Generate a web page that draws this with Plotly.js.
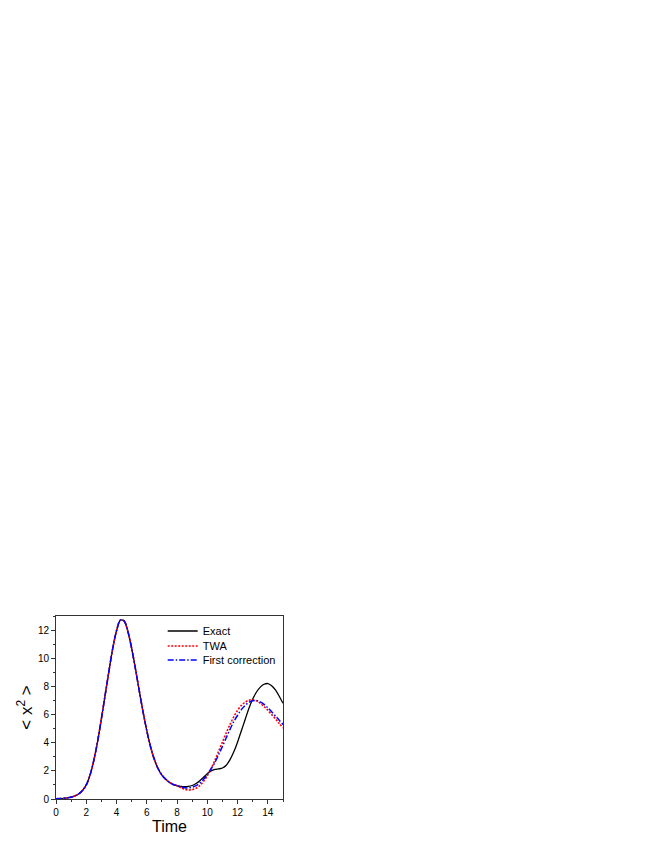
<!DOCTYPE html>
<html>
<head>
<meta charset="utf-8">
<script src="https://cdn.plot.ly/plotly-3.0.1.min.js"></script>
<style>html,body{margin:0;padding:0;background:#fff;}</style>
</head>
<body>
<div id="chart" style="width:654px;height:846px;"></div>
<script>
// Shared early part (all three curves coincide up to t ~ 8)
const tCommon = [0, 0.25, 0.5, 0.75, 1.0, 1.25, 1.5, 1.75, 2.0, 2.25, 2.5, 2.75, 3.0, 3.25, 3.5, 3.75, 4.0, 4.25, 4.5, 4.75, 5.0, 5.25, 5.5, 5.75, 6.0, 6.25, 6.5, 6.75, 7.0, 7.25, 7.5, 7.75];
const vCommon = [0.02, 0.03, 0.05, 0.08, 0.13, 0.22, 0.36, 0.6, 1.0, 1.7, 2.75, 4.1, 5.7, 7.4, 9.1, 10.7, 11.95, 12.7, 12.65, 11.9, 10.7, 9.25, 7.7, 6.2, 4.85, 3.7, 2.8, 2.15, 1.7, 1.4, 1.18, 1.03];

const tTail = [8.0, 8.25, 8.5, 8.75, 9.0, 9.25, 9.5, 9.75, 10.0, 10.25, 10.5, 10.75, 11.0, 11.25, 11.5, 11.75, 12.0, 12.25, 12.5, 12.75, 13.0, 13.25, 13.5, 13.75, 14.0, 14.25, 14.5, 14.75, 15.0];
const vExactTail = [0.94, 0.89, 0.87, 0.89, 0.96, 1.1, 1.3, 1.55, 1.8, 2.0, 2.1, 2.14, 2.2, 2.4, 2.8, 3.35, 4.05, 4.85, 5.65, 6.45, 7.1, 7.6, 7.95, 8.15, 8.2, 8.05, 7.75, 7.3, 6.8];
const vTwaTail = [0.95, 0.8, 0.69, 0.64, 0.66, 0.76, 0.95, 1.25, 1.65, 2.15, 2.75, 3.4, 4.05, 4.7, 5.3, 5.85, 6.3, 6.65, 6.88, 7.02, 7.05, 6.97, 6.8, 6.57, 6.3, 6.0, 5.7, 5.37, 5.05];
const vFirstTail = [0.97, 0.86, 0.8, 0.79, 0.84, 0.95, 1.13, 1.4, 1.75, 2.15, 2.6, 3.15, 3.75, 4.35, 4.95, 5.5, 5.95, 6.35, 6.65, 6.87, 6.98, 7.0, 6.9, 6.72, 6.48, 6.2, 5.9, 5.6, 5.3];

const seriesNames = ["Exact", "TWA", "First correction"];

const font = "Liberation Sans, Arial, sans-serif";

const traces = [
  {y: vCommon.concat(vExactTail), name: seriesNames[0], legend: "legend",
   line: {color: "#000000", width: 1.3, dash: "solid"}},
  {y: vCommon.concat(vTwaTail), name: seriesNames[1], legend: "legend2",
   line: {color: "#ff0000", width: 1.6, dash: "2px,1.5px"}},
  {y: vCommon.concat(vFirstTail), name: seriesNames[2], legend: "legend3",
   line: {color: "#0000ff", width: 1.5, dash: "6px,2px,1.5px,2px"}}
].map(t => Object.assign({type: "scatter", mode: "lines", x: tCommon.concat(tTail)}, t,
  {line: Object.assign({shape: "spline", smoothing: 0.9}, t.line)}));

const axisCommon = {
  showgrid: false, zeroline: false, showline: true, mirror: true,
  linecolor: "#333", linewidth: 1, ticks: "outside", ticklen: 4, tickwidth: 1, tickcolor: "#333",
  tickfont: {family: font, size: 10, color: "#000"}
};

function legendAt(y) {
  return {x: 0.47, y: y, xanchor: "left", yanchor: "middle", bgcolor: "rgba(0,0,0,0)",
    font: {family: font, size: 11, color: "#000"}, itemwidth: 30};
}

const layout = {
  width: 654, height: 846,
  margin: {l: 56, r: 371, t: 616, b: 47},
  paper_bgcolor: "#fff", plot_bgcolor: "#fff",
  showlegend: true,
  legend: legendAt(0.918),
  legend2: legendAt(0.836),
  legend3: legendAt(0.760),
  xaxis: Object.assign({}, axisCommon, {range: [0, 15], dtick: 2, tick0: 0,
    minor: {dtick: 1, ticks: "outside", ticklen: 2, tickcolor: "#333"},
    title: {text: "Time", font: {family: font, size: 16, color: "#000"}, standoff: 0}}),
  yaxis: Object.assign({}, axisCommon, {range: [0, 13], dtick: 2, tick0: 0,
    minor: {dtick: 1, ticks: "outside", ticklen: 2, tickcolor: "#333"},
    title: {text: "< x<sup>2</sup> >", font: {family: font, size: 17, color: "#000"}, standoff: 0}})
};

Plotly.newPlot("chart", traces, layout, {displayModeBar: false, staticPlot: true});
</script>
</body>
</html>
